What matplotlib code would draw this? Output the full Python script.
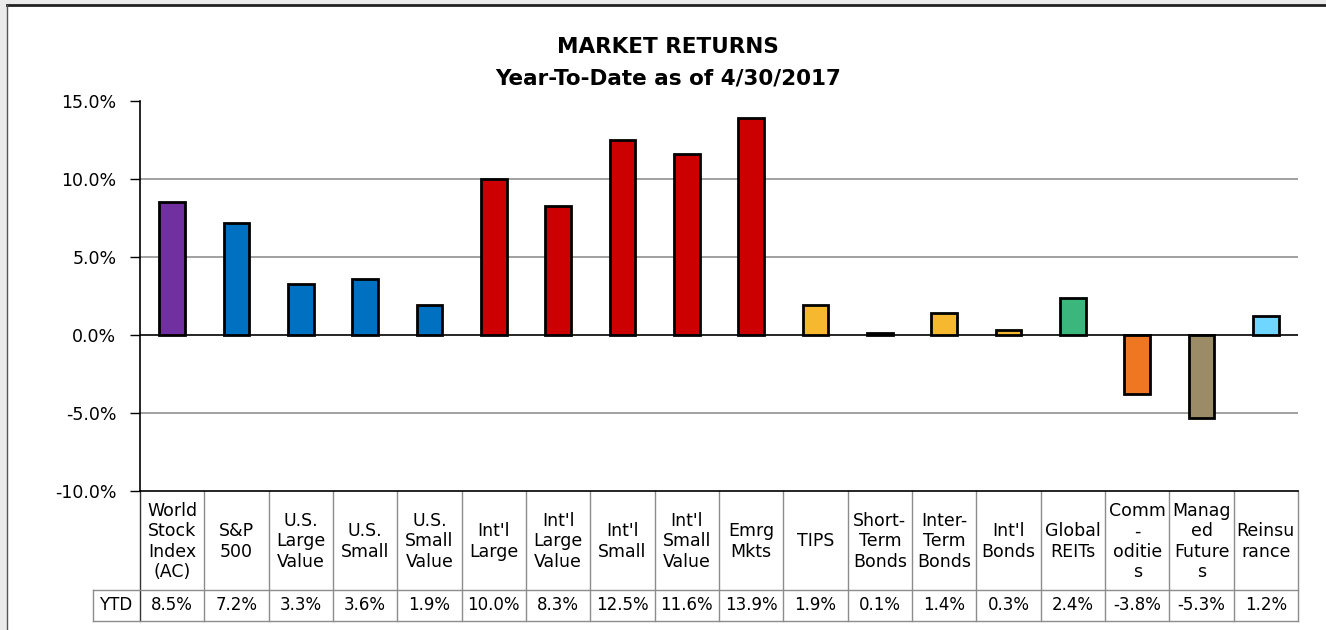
import matplotlib
matplotlib.use("Agg")
import matplotlib.pyplot as plt
from matplotlib.patches import Rectangle
from matplotlib.lines import Line2D
from matplotlib.transforms import blended_transform_factory

plt.rcParams['font.family'] = ['DejaVu Sans']

categories = ["World\nStock\nIndex\n(AC)", "S&P\n500", "U.S.\nLarge\nValue", "U.S.\nSmall",
              "U.S.\nSmall\nValue", "Int'l\nLarge", "Int'l\nLarge\nValue", "Int'l\nSmall",
              "Int'l\nSmall\nValue", "Emrg\nMkts", "TIPS", "Short-\nTerm\nBonds",
              "Inter-\nTerm\nBonds", "Int'l\nBonds", "Global\nREITs", "Comm\n-\noditie\ns",
              "Manag\ned\nFuture\ns", "Reinsu\nrance"]
ytd = [8.5, 7.2, 3.3, 3.6, 1.9, 10.0, 8.3, 12.5, 11.6, 13.9, 1.9, 0.1, 1.4, 0.3, 2.4, -3.8, -5.3, 1.2]
colors = ["#7030A0", "#0070C0", "#0070C0", "#0070C0", "#0070C0", "#CC0000", "#CC0000", "#CC0000",
          "#CC0000", "#CC0000", "#F5B82E", "#F5B82E", "#F5B82E", "#F5B82E", "#3BB77E", "#EF7721",
          "#9B8B66", "#6FD6FF"]
row_label = "YTD"
yticks = [-10, -5, 0, 5, 10, 15]
title_lines = ["MARKET RETURNS", "Year-To-Date as of 4/30/2017"]

W, H = 1326, 630
fig = plt.figure(figsize=(W / 100, H / 100), dpi=100, facecolor="#EBEBEB")

# white chart area with frame
bg = Rectangle((7 / W, 0), 1 - 7 / W, (H - 5) / H, transform=fig.transFigure,
               facecolor="white", edgecolor="none", zorder=-10)
fig.add_artist(bg)
fig.add_artist(Line2D([7 / W, 1], [(H - 5) / H] * 2, transform=fig.transFigure, color="#222222", lw=2))
fig.add_artist(Line2D([7 / W] * 2, [0, (H - 5) / H], transform=fig.transFigure, color="#555555", lw=1))

x0, x1 = 140, 1298
ytop, ybot = 101, 491
ax = fig.add_axes([x0 / W, (H - ybot) / H, (x1 - x0) / W, (ybot - ytop) / H])
ax.set_zorder(5)
ax.set_facecolor("none")
n = len(ytd)
xs = list(range(n))
ax.bar(xs, ytd, width=0.4, color=colors, edgecolor="black", linewidth=2, zorder=3)
ax.set_xlim(-0.5, n - 0.5)
ax.set_ylim(-10, 15)
ax.set_yticks(yticks)
ax.set_yticklabels([f"{v:.1f}%" for v in yticks], fontsize=12.5)
ax.tick_params(axis="y", length=7, width=1, pad=10, direction="out")
ax.set_xticks([])
for s in ["top", "right"]:
    ax.spines[s].set_visible(False)
ax.spines["left"].set_linewidth(1.2)
ax.spines["bottom"].set_linewidth(1.2)
for v in yticks:
    if v in (-10, 15):
        continue
    if v == 0:
        ax.axhline(0, color="black", lw=1.2, zorder=2)
    else:
        ax.axhline(v, color="#9a9a9a", lw=1.3, zorder=1)

fig.text(668 / W, 1 - 47 / H, title_lines[0], ha="center", va="center", fontsize=15.5,
         fontweight="bold")
fig.text(668 / W, 1 - 78 / H, title_lines[1], ha="center", va="center", fontsize=15.5,
         fontweight="bold")

# data table below axis
tr = blended_transform_factory(ax.transData, fig.transFigure)
ty = lambda py: 1 - py / H
hdr_top, hdr_bot, row_bot = 491, 590, 621
gray = "#8c8c8c"
for i in range(n + 1):
    xb = i - 0.5
    fig.add_artist(Line2D([xb, xb], [ty(hdr_top), ty(row_bot)], transform=tr,
                          color=("#333333" if i == 0 else gray), lw=1))
tl = fig.transFigure
fig.add_artist(Line2D([93 / W, x1 / W], [ty(hdr_bot)] * 2, transform=tl, color=gray, lw=1))
fig.add_artist(Line2D([93 / W, x1 / W], [ty(row_bot)] * 2, transform=tl, color=gray, lw=1))
fig.add_artist(Line2D([93 / W] * 2, [ty(hdr_bot), ty(row_bot)], transform=tl, color=gray, lw=1))
for i, (c, v) in enumerate(zip(categories, ytd)):
    fig.text(i, ty((hdr_top + hdr_bot) / 2 + 1), c, transform=tr, ha="center", va="center",
             fontsize=12.5, linespacing=1.18)
    fig.text(i, ty((hdr_bot + row_bot) / 2), f"{v:.1f}%", transform=tr, ha="center", va="center",
             fontsize=12)
fig.text(116 / W, ty((hdr_bot + row_bot) / 2), row_label, ha="center", va="center", fontsize=12)

fig.savefig("out.png", dpi=100, facecolor=fig.get_facecolor())
